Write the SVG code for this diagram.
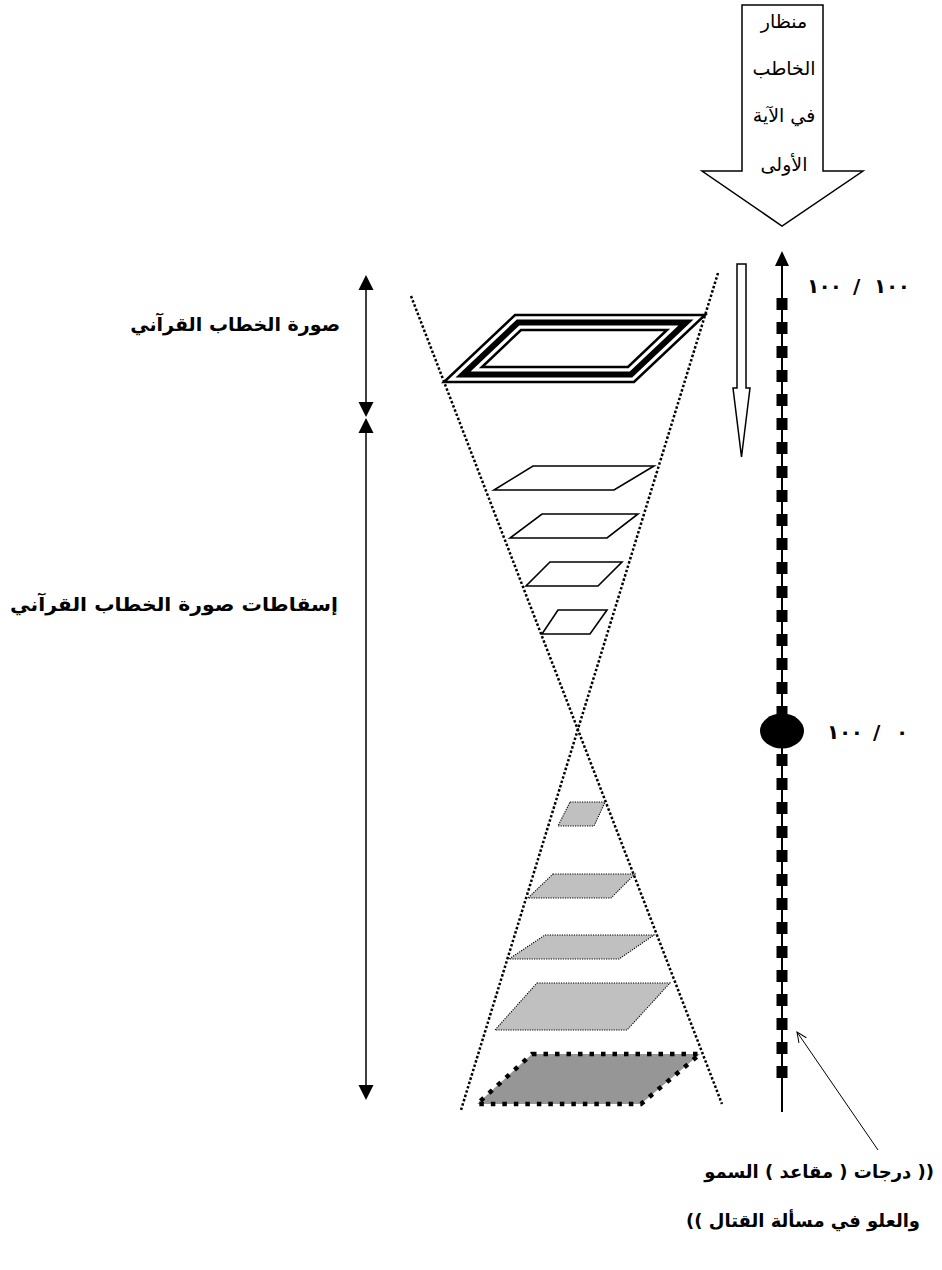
<svg xmlns="http://www.w3.org/2000/svg" width="942" height="1270" viewBox="0 0 942 1270">
<style>
.t{font-family:"DejaVu Sans",sans-serif;fill:#000}
.b{font-weight:bold}
.ar{font-family:"DejaVu Sans",sans-serif;fill:#000;direction:rtl}
.ln{stroke:#000;fill:none}
.dot{stroke:#000;stroke-width:2.5;stroke-dasharray:2.5 2;fill:none}
.plane{fill:#fff;stroke:#000;stroke-width:1.6;stroke-linejoin:miter}
.gray{fill:#c0c0c0;stroke:#000;stroke-width:1.1;stroke-dasharray:1.2 1.2}
</style>
<defs>
<marker id="open" viewBox="0 0 12 12" refX="11" refY="6" markerWidth="12" markerHeight="12" markerUnits="userSpaceOnUse" orient="auto">
<path d="M1,1.5 L11,6 L1,10.5" fill="none" stroke="#000" stroke-width="1"/>
</marker>
</defs>
<rect width="942" height="1270" fill="#fff"/>

<g id="viewer-arrow">
<polygon points="742,5 823,5 823,171 863,171 782,226 702,171 742,171" fill="#fff" stroke="#000" stroke-width="1.5"/>
<text class="ar" direction="rtl" font-size="19" text-anchor="middle" x="784" y="28">منظار</text>
<text class="ar" direction="rtl" font-size="19" text-anchor="middle" x="784" y="75">الخاطب</text>
<text class="ar" direction="rtl" font-size="19" text-anchor="middle" x="784" y="122">في الآية</text>
<text class="ar" direction="rtl" font-size="19" text-anchor="middle" x="784" y="171">الأولى</text>
</g>

<g id="hourglass">
<line class="dot" x1="411" y1="296" x2="722" y2="1104"/>
<line class="dot" x1="718" y1="273" x2="461" y2="1110"/>
</g>

<g id="image-plane">
<polygon points="515,315 705,315 634,382 444,382" fill="#fff" stroke="#000" stroke-width="2.5"/>
<polygon points="518,322.5 686,322.5 631,374.5 463,374.5" fill="none" stroke="#000" stroke-width="6"/>
<polygon points="521,330 667,330 628,367 482,367" fill="none" stroke="#000" stroke-width="2.5"/>
</g>

<g id="projections-upper">
<polygon class="plane" points="533,466 654,466 614,490 494,490"/>
<polygon class="plane" points="542,514 638,514 607,538 510,538"/>
<polygon class="plane" points="550,562 622,562 598,586 526,586"/>
<polygon class="plane" points="558,610 607,610 590,634 542,634"/>
</g>

<g id="projections-lower">
<polygon class="gray" points="570,802 605,802 594,826 558,826"/>
<polygon class="gray" points="553,874 635,874 611,898 528,898"/>
<polygon class="gray" points="545,935 654,935 619,959 509,959"/>
<polygon class="gray" points="537,983 670,983 627,1030 495,1030"/>
<polygon points="532,1054 700,1054 641,1104 477,1104" fill="#969696" stroke="#000" stroke-width="4.5" stroke-dasharray="4.5 7"/>
</g>

<g id="down-arrow">
<polygon points="737,264 746,264 746,388 750,388 741.5,457 733,388 737,388" fill="#fff" stroke="#000" stroke-width="1.5"/>
</g>

<g id="scale">
<line class="ln" x1="782" y1="262" x2="782" y2="1112" stroke-width="2"/>
<polygon points="782,251 775,266 789,266" fill="#000"/>
<line x1="782" y1="298" x2="782" y2="1078" stroke="#000" stroke-width="11" stroke-dasharray="12 12"/>
<ellipse cx="782" cy="731" rx="22" ry="17.5" fill="#000"/>
<text class="t b" font-size="20" x="807" y="293" textLength="35" lengthAdjust="spacing">١٠٠</text>
<text class="t b" font-size="20" x="853" y="293">/</text>
<text class="t b" font-size="20" x="874" y="293" textLength="36" lengthAdjust="spacing">١٠٠</text>
<text class="t b" font-size="20" x="827" y="739" textLength="36" lengthAdjust="spacing">١٠٠</text>
<text class="t b" font-size="20" x="873" y="739">/</text>
<text class="t b" font-size="20" x="896" y="739">٠</text>
</g>

<g id="range-arrows">
<line class="ln" x1="366" y1="285" x2="366" y2="410" stroke-width="1.5"/>
<polygon points="366,275 358.5,290 373.5,290" fill="#000"/>
<polygon points="366,417 358.5,402 373.5,402" fill="#000"/>
<line class="ln" x1="366" y1="428" x2="366" y2="1090" stroke-width="1.5"/>
<polygon points="366,418 358.5,433 373.5,433" fill="#000"/>
<polygon points="366,1100 358.5,1085 373.5,1085" fill="#000"/>
</g>

<g id="label-image">
<text class="ar b" direction="rtl" font-size="19" text-anchor="start" x="340" y="331">صورة الخطاب القرآني</text>
</g>

<g id="label-projections">
<text class="ar b" direction="rtl" font-size="19" text-anchor="start" x="338" y="611" textLength="328" lengthAdjust="spacingAndGlyphs">إسقاطات صورة الخطاب القرآني</text>
</g>

<g id="label-degrees">
<text class="ar b" direction="rtl" font-size="18" text-anchor="start" x="934" y="1178">(( درجات ( مقاعد ) السمو</text>
<text class="ar b" direction="rtl" font-size="18" text-anchor="start" x="920" y="1227">والعلو في مسألة القتال ))</text>
</g>

<g id="connectors">
<line x1="878" y1="1150" x2="797" y2="1032" stroke="#000" stroke-width="1" marker-end="url(#open)"/>
</g>
</svg>
